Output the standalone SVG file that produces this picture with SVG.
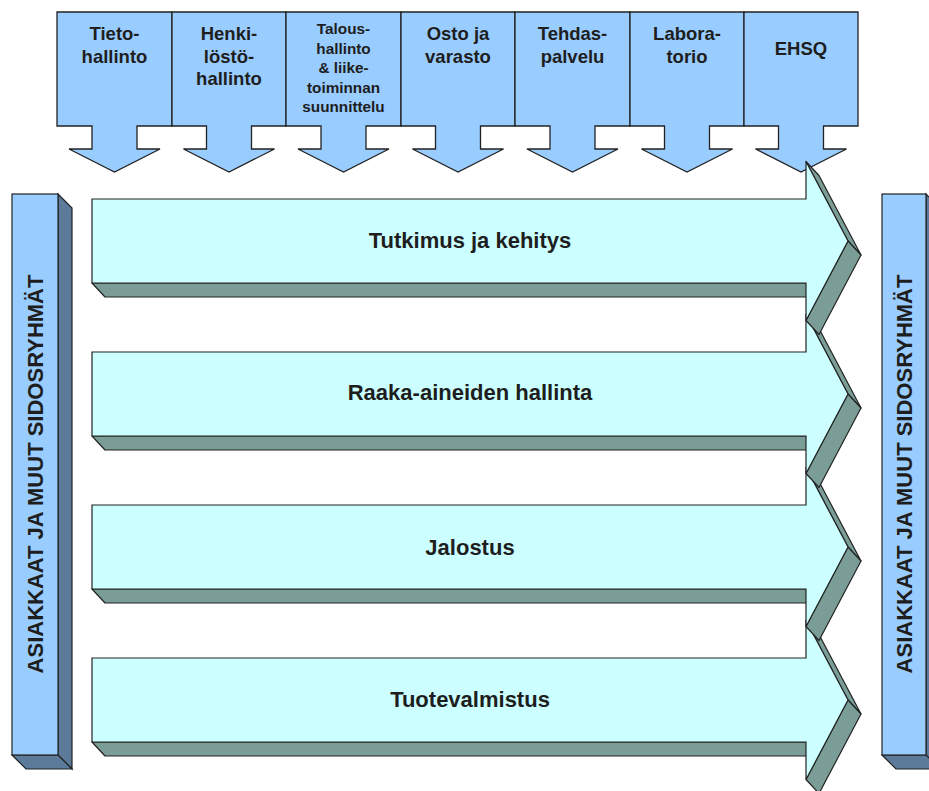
<svg xmlns="http://www.w3.org/2000/svg" width="929" height="791" viewBox="0 0 929 791">
  <style>
    .box{fill:#99CCFF;stroke:#222;stroke-width:1.3;stroke-linejoin:miter}
    .t{font-family:"Liberation Sans",Arial,sans-serif;font-weight:bold;fill:#1e1e1e;text-anchor:middle}
    .top{font-size:18.5px}
    .sm{font-size:15.3px}
    .row{font-size:22px}
    .vert{font-size:22px}
    .front{fill:#CCFFFF;stroke:#222;stroke-width:1.2}
    .depth{fill:#7A9E97;stroke:#222;stroke-width:1.2;stroke-linejoin:round}
    .bar{fill:#99CCFF;stroke:#222;stroke-width:1.2}
    .side{fill:#5C7B9A;stroke:#222;stroke-width:1.2}
  </style>
  <rect width="929" height="791" fill="#ffffff"/>

  <!-- support functions: boxes with downward arrows -->
  <g id="tietohallinto">
    <path class="box" d="M57,12 H172 V126 H137 V149 H160 L114.5,172 L69,149 H92 V126 H57 Z"/>
    <text class="t top" x="114.5" y="40">Tieto-</text>
    <text class="t top" x="114.5" y="62.5">hallinto</text>
  </g>
  <g id="henkilostohallinto">
    <path class="box" d="M172,12 H286 V126 H251.5 V149 H274.5 L229,172 L183.5,149 H206.5 V126 H172 Z"/>
    <text class="t top" x="229" y="40">Henki-</text>
    <text class="t top" x="229" y="62.5">löstö-</text>
    <text class="t top" x="229" y="85">hallinto</text>
  </g>
  <g id="taloushallinto">
    <path class="box" d="M286,12 H401 V126 H366 V149 H389 L343.5,172 L298,149 H321 V126 H286 Z"/>
    <text class="t sm" x="343.5" y="34">Talous-</text>
    <text class="t sm" x="343.5" y="53.5">hallinto</text>
    <text class="t sm" x="343.5" y="73">&amp; liike-</text>
    <text class="t sm" x="343.5" y="92.5">toiminnan</text>
    <text class="t sm" x="343.5" y="112">suunnittelu</text>
  </g>
  <g id="osto-ja-varasto">
    <path class="box" d="M401,12 H515 V126 H480.5 V149 H503.5 L458,172 L412.5,149 H435.5 V126 H401 Z"/>
    <text class="t top" x="458" y="40">Osto ja</text>
    <text class="t top" x="458" y="62.5">varasto</text>
  </g>
  <g id="tehdaspalvelu">
    <path class="box" d="M515,12 H630 V126 H595 V149 H618 L572.5,172 L527,149 H550 V126 H515 Z"/>
    <text class="t top" x="572.5" y="40">Tehdas-</text>
    <text class="t top" x="572.5" y="62.5">palvelu</text>
  </g>
  <g id="laboratorio">
    <path class="box" d="M630,12 H744 V126 H709.5 V149 H732.5 L687,172 L641.5,149 H664.5 V126 H630 Z"/>
    <text class="t top" x="687" y="40">Labora-</text>
    <text class="t top" x="687" y="62.5">torio</text>
  </g>
  <g id="ehsq">
    <path class="box" d="M744,12 H858 V126 H823.5 V149 H846.5 L801,172 L755.5,149 H778.5 V126 H744 Z"/>
    <text class="t top" x="801" y="54.5">EHSQ</text>
  </g>

  <!-- process arrows, drawn bottom-up so upper extrusions overlap lower heads -->
  <g id="tuotevalmistus">
    <path class="depth" d="M92,742 H806 L819,756 H105 Z"/>
    <path class="depth" d="M806,620.5 L848,700 L861,714 L819,634.5 Z"/>
    <path class="depth" d="M848,700 L806,779.5 L819,793.5 L861,714 Z"/>
    <path class="front" d="M92,658 H806 V620.5 L848,700 L806,779.5 V742 H92 Z"/>
    <text class="t row" x="470" y="707">Tuotevalmistus</text>
  </g>
  <g id="jalostus">
    <path class="depth" d="M92,589 H806 L819,603 H105 Z"/>
    <path class="depth" d="M806,467.5 L848,547 L861,561 L819,481.5 Z"/>
    <path class="depth" d="M848,547 L806,626.5 L819,640.5 L861,561 Z"/>
    <path class="front" d="M92,505 H806 V467.5 L848,547 L806,626.5 V589 H92 Z"/>
    <text class="t row" x="470" y="555">Jalostus</text>
  </g>
  <g id="raaka-aineiden-hallinta">
    <path class="depth" d="M92,436 H806 L819,450 H105 Z"/>
    <path class="depth" d="M806,314.5 L848,394 L861,408 L819,328.5 Z"/>
    <path class="depth" d="M848,394 L806,473.5 L819,487.5 L861,408 Z"/>
    <path class="front" d="M92,352 H806 V314.5 L848,394 L806,473.5 V436 H92 Z"/>
    <text class="t row" x="470" y="400">Raaka-aineiden hallinta</text>
  </g>
  <g id="tutkimus-ja-kehitys">
    <path class="depth" d="M92,283 H806 L819,297 H105 Z"/>
    <path class="depth" d="M806,161.5 L848,241 L861,255 L819,175.5 Z"/>
    <path class="depth" d="M848,241 L806,320.5 L819,334.5 L861,255 Z"/>
    <path class="front" d="M92,199 H806 V161.5 L848,241 L806,320.5 V283 H92 Z"/>
    <text class="t row" x="470" y="248">Tutkimus ja kehitys</text>
  </g>

  <!-- stakeholder bars on both sides -->
  <g id="sidosryhmat-vasen">
    <path class="side" d="M58,194 L72,208 V769 L58,755 Z"/>
    <path class="side" d="M12,755 H58 L72,769 H26 Z"/>
    <rect class="bar" x="12" y="194" width="46" height="561"/>
    <text class="t vert" transform="translate(43,474) rotate(-90)">ASIAKKAAT JA MUUT SIDOSRYHMÄT</text>
  </g>
  <g id="sidosryhmat-oikea">
    <path class="side" d="M926,194 L940,208 V769 L926,755 Z"/>
    <path class="side" d="M882,755 H926 L940,769 H896 Z"/>
    <rect class="bar" x="882" y="194" width="44" height="561"/>
    <text class="t vert" transform="translate(912,474) rotate(-90)">ASIAKKAAT JA MUUT SIDOSRYHMÄT</text>
  </g>

  <g id="connectors"/>
</svg>
